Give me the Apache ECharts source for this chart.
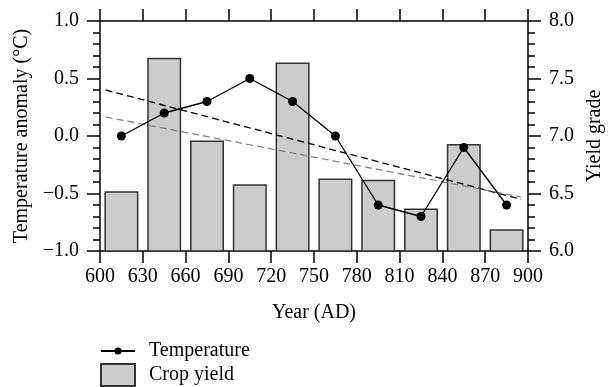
<!DOCTYPE html>
<html>
<head>
<meta charset="utf-8">
<script src="https://cdn.jsdelivr.net/npm/echarts@6/dist/echarts.min.js"></script>
<style>
  html, body { margin: 0; padding: 0; background: #fff; }
  #chart { width: 610px; height: 387px; }
</style>
</head>
<body>
<div id="chart"></div>
<script>
// data
const years = [615, 645, 675, 705, 735, 765, 795, 825, 855, 885];
const temperature = [0.0, 0.2, 0.3, 0.5, 0.3, 0.0, -0.6, -0.7, -0.1, -0.6];
const cropYield = [6.52, 7.68, 6.96, 6.58, 7.64, 6.63, 6.62, 6.37, 6.93, 6.19];
// dashed trend lines, endpoints [year, anomaly]
const trendBlack = [[604, 0.40], [895, -0.55]];
const trendGray = [[604, 0.165], [895, -0.53]];

const FONT = "Liberation Serif";
const FS = 20;
const fmt = v => (v < 0 ? "\u2212" : "") + Math.abs(v).toFixed(1);

let chart = echarts.init(document.getElementById("chart"));

let axisLine = { show: true, onZero: false, lineStyle: { color: "#000", width: 1.5 } };
let tick = { show: true, length: 13, lineStyle: { color: "#000", width: 1.5 } };
let minor = { show: true, splitNumber: 5, length: 7, lineStyle: { color: "#000", width: 1.5 } };
let nameStyle = { fontFamily: FONT, fontSize: FS, color: "#000" };

let option = {
  backgroundColor: "#fff",
  animation: false,
  textStyle: { fontFamily: FONT, color: "#000" },
  grid: { left: 100, right: 82, top: 21, bottom: 136, outerBoundsMode: "none" },
  legend: [
    {
      orient: "vertical",
      left: 100,
      top: 341,
      padding: 0,
      itemWidth: 34,
      itemHeight: 9,
      textStyle: { fontFamily: FONT, fontSize: FS, color: "#000", padding: [0, 0, 0, 9] },
      data: ["Temperature"]
    },
    {
      orient: "vertical",
      left: 100,
      top: 363,
      padding: 0,
      itemWidth: 34,
      itemHeight: 22,
      textStyle: { fontFamily: FONT, fontSize: FS, color: "#000", padding: [0, 0, 0, 9] },
      data: [{ name: "Crop yield", icon: "rect" }]
    }
  ],
  xAxis: [
    {
      type: "value",
      min: 600,
      max: 900,
      interval: 30,
      name: "Year (AD)",
      nameLocation: "middle",
      nameGap: 52,
      nameTextStyle: nameStyle,
      axisLine: axisLine,
      axisTick: Object.assign({}, tick, { length: 12 }),
      axisLabel: { fontFamily: FONT, fontSize: FS, color: "#000", margin: 16 },
      splitLine: { show: false }
    },
    {
      type: "value",
      position: "top",
      min: 600,
      max: 900,
      interval: 30,
      axisLine: axisLine,
      axisTick: Object.assign({}, tick, { length: 12 }),
      axisLabel: { show: false },
      splitLine: { show: false }
    }
  ],
  yAxis: [
    {
      type: "value",
      min: -1,
      max: 1,
      interval: 0.5,
      name: "Temperature anomaly (\u00B0C)",
      nameLocation: "middle",
      nameGap: 62,
      nameTextStyle: nameStyle,
      axisLine: axisLine,
      axisTick: tick,
      minorTick: minor,
      axisLabel: { fontFamily: FONT, fontSize: FS, color: "#000", margin: 21, formatter: fmt },
      splitLine: { show: false }
    },
    {
      type: "value",
      min: 6,
      max: 8,
      interval: 0.5,
      name: "Yield grade",
      nameLocation: "middle",
      nameGap: 57,
      nameRotate: 90,
      nameTextStyle: nameStyle,
      axisLine: axisLine,
      axisTick: tick,
      minorTick: minor,
      axisLabel: { fontFamily: FONT, fontSize: FS, color: "#000", margin: 21, formatter: fmt },
      splitLine: { show: false }
    }
  ],
  series: [
    {
      name: "Crop yield",
      type: "bar",
      xAxisIndex: 0,
      yAxisIndex: 1,
      barWidth: 34,
      clip: true,
      itemStyle: { color: "#cccccc", borderColor: "#333", borderWidth: 1.5 },
      data: years.map((y, i) => [y, cropYield[i]]),
      z: 1
    },
    {
      name: "trendBlack",
      type: "line",
      yAxisIndex: 0,
      symbol: "none",
      lineStyle: { color: "#000", width: 1.3, type: [7, 4] },
      data: trendBlack,
      z: 2
    },
    {
      name: "trendGray",
      type: "line",
      yAxisIndex: 0,
      symbol: "none",
      lineStyle: { color: "#888", width: 1.3, type: [7, 4] },
      data: trendGray,
      z: 2
    },
    {
      name: "Temperature",
      type: "line",
      yAxisIndex: 0,
      symbol: "circle",
      symbolSize: 9,
      lineStyle: { color: "#000", width: 1.3 },
      itemStyle: { color: "#000" },
      data: years.map((y, i) => [y, temperature[i]]),
      z: 3
    }
  ]
};

chart.setOption(option);

window.addEventListener("resize", () => {
  chart.resize();
});
</script>
</body>
</html>
